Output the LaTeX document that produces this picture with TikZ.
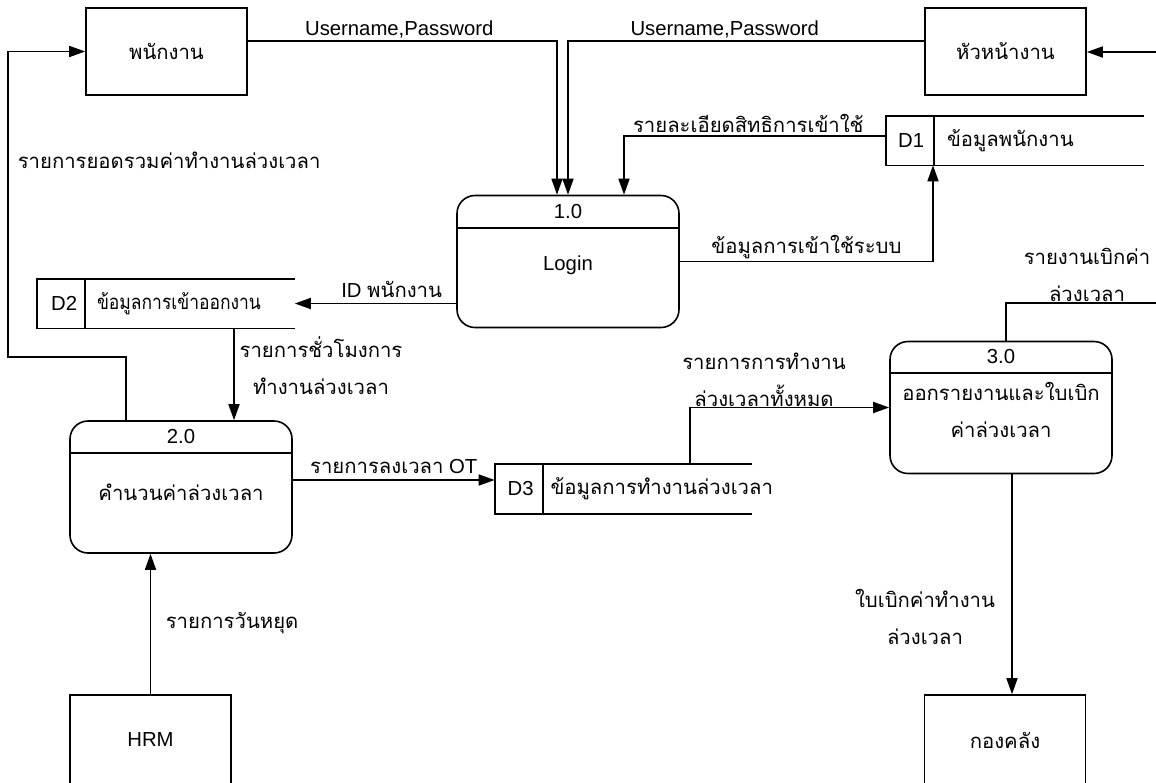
\documentclass[tikz,border=0pt]{standalone}
\usepackage{fontspec}
\setmainfont{Liberation Sans}
\newfontfamily\thai[Script=Thai]{Loma}
\usetikzlibrary{arrows.meta,positioning}

\tikzset{
  entity/.style={draw, minimum width=161pt, minimum height=87pt},
  proc/.style={draw, rounded corners=18pt, minimum width=222pt, minimum height=132pt},
  store/.style={minimum width=256pt, minimum height=48pt},
  twoline/.style={align=center},
}

\begin{document}
\begin{tikzpicture}[x=1pt,y=-1pt,>={Triangle[length=16pt,width=11pt]},line width=1.6pt,
    inner sep=2pt,font=\fontsize{20.3}{37}\selectfont]
\useasboundingbox (0,0) rectangle (1156,782);

% external entities
\node[entity] (emp)  at (166.5,51.5) {\thai พนักงาน};
\node[entity] (boss) at (1005.5,51.5) {\thai หัวหน้างาน};
\node[entity, minimum height=90pt] (hrm) at (150.5,740) {HRM};
\node[entity, minimum height=90pt] (fin) at (1005,740) {\thai กองคลัง};

% processes
\node[proc] (p1) at (568,261.5) {};
\draw ([yshift=-33pt]p1.north west) -- ([yshift=-33pt]p1.north east);
\node (p1num) at ([yshift=-16.5pt]p1.north) {1.0};
\node (p1txt) at (568,265) {Login};

\node[proc] (p2) at (181,487) {};
\draw ([yshift=-33pt]p2.north west) -- ([yshift=-33pt]p2.north east);
\node (p2num) at ([yshift=-16.5pt]p2.north) {2.0};
\node (p2txt) at (181,492) {\thai คำนวนค่าล่วงเวลา};

\node[proc] (p3) at (1001,407.5) {};
\draw ([yshift=-32pt]p3.north west) -- ([yshift=-32pt]p3.north east);
\node (p3num) at ([yshift=-16pt]p3.north) {3.0};
\node[twoline] (p3txt) at (1001,410) {\thai ออกรายงานและใบเบิก\\\thai ค่าล่วงเวลา};

% data stores
\node[store] (d1) at (1015,140.5) {};
\node[store] (d2) at (166,303.5) {};
\node[store] (d3) at (623.5,489) {};
\foreach \s in {d1,d2,d3}{
  \draw (\s.north east) -- (\s.north west) -- (\s.south west) -- (\s.south east);
  \draw ([xshift=48pt]\s.north west) -- ([xshift=48pt]\s.south west);
}
\node (d1id) at ([xshift=25pt]d1.west) {D1};
\node[anchor=west] (d1nm) at ([xshift=58pt]d1.west) {\thai ข้อมูลพนักงาน};
\node (d2id) at ([xshift=27pt]d2.west) {D2};
\node[anchor=west] (d2nm) at ([xshift=57pt]d2.west)
    {\thai\addfontfeature{FakeStretch=0.86}ข้อมูลการเข้าออกงาน};
\node (d3id) at ([xshift=26pt]d3.west) {D3};
\node[anchor=west] (d3nm) at ([xshift=53pt]d3.west) {\thai ข้อมูลการทำงานล่วงเวลา};

% attachment points
\coordinate (bin) at (1156,52);
\coordinate (lp) at (8,357);
\coordinate (p2o) at ([xshift=-55pt]p2.north);
\coordinate (d2o) at ([xshift=68pt]d2.south);
\coordinate (p2e) at ([yshift=7pt]p2.east);
\coordinate (d3o) at ([xshift=66.5pt]d3.north);
\coordinate (p3o) at ([xshift=5pt]p3.north);
\coordinate (rout) at (1156,303);
\coordinate (fino) at ([xshift=7pt]fin.north);

% flows
\draw[->] ([yshift=10.5pt]emp.east) -| ([xshift=-11pt]p1.north)
    node[above, pos=0.245] {Username,Password};
\draw[->] ([yshift=10.5pt]boss.west) -| (p1.north)
    node[above, pos=0.28] {Username,Password};
\draw[->] (bin) -- (bin -| boss.east);
\draw[->] ([yshift=4.5pt]d1.west) -| ([xshift=56pt]p1.north)
    node[above=1pt, pos=0.263] {\thai รายละเอียดสิทธิการเข้าใช้};
\draw[->] (p1.east) -| ([xshift=-82pt]d1.south)
    node[above, pos=0.25] {\thai ข้อมูลการเข้าใช้ระบบ};
\draw[->] (p1.west |- d2.east) -- node[above=3pt, pos=0.4] {ID {\thai พนักงาน}} (d2.east);
\draw[->] (d2o) -- (d2o |- p2.north);
\draw[->] (p2o) |- (lp) |- (emp.west);
\draw[->] (hrm.north) -- (hrm.north |- p2.south);
\draw[->] (p2e) -- node[above=4pt] {{\thai รายการลงเวลา} OT} (p2e -| d3.west);
\draw[->] (d3o) |- (p3.west);
\draw (p3o) |- (rout);
\draw[->] (fino |- p3.south) -- (fino);

% flow labels
\node[anchor=west] (sumlbl) at (15,160) {\thai รายการยอดรวมค่าทำงานล่วงเวลา};
\node[twoline] (hrslbl) at (321,366) {\thai รายการชั่วโมงการ\\\thai ทำงานล่วงเวลา};
\node[anchor=west] (hollbl) at (163,623) {\thai รายการวันหยุด};
\node[twoline] (alllbl) at (764,380) {\thai รายการการทำงาน\\\thai ล่วงเวลาทั้งหมด};
\node[twoline] (replbl) at (1087,275) {\thai รายงานเบิกค่า\\\thai ล่วงเวลา};
\node[twoline] (clmlbl) at (925,617) {\thai ใบเบิกค่าทำงาน\\\thai ล่วงเวลา};
\end{tikzpicture}
\end{document}
